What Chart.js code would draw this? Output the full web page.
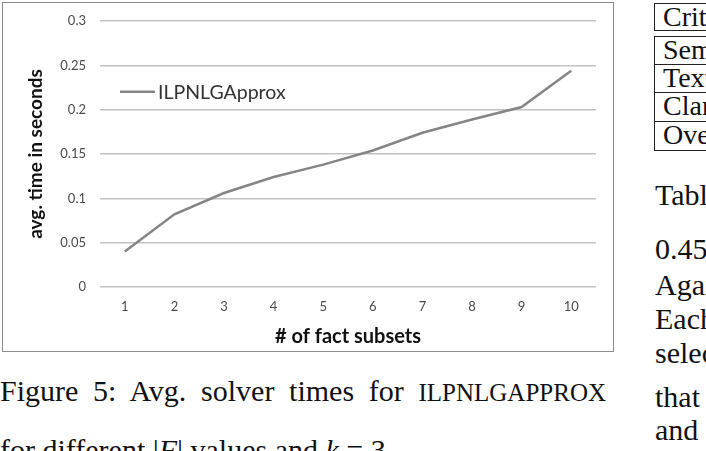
<!DOCTYPE html>
<html>
<head>
<meta charset="utf-8">
<script src="https://cdn.jsdelivr.net/npm/chart.js@4/dist/chart.umd.min.js"></script>
<style>
  html, body { margin: 0; padding: 0; background: #fff; }
  body { width: 706px; height: 451px; position: relative; overflow: hidden; }
  #frame { position: absolute; left: 2px; top: 2px; width: 610px; height: 348px; border: 1px solid #8c8c8c; }
  #frame canvas { display: block; }
  .serif { font-family: "Liberation Serif", "Times New Roman", serif; color: #111; position: absolute; white-space: nowrap; line-height: 36px; }
  #cap1 { left: 0px; top: 373px; font-size: 30px; width: 606px; text-align: justify; text-align-last: justify; }
  #cap2 { left: 0px; top: 432px; font-size: 30px; }
  .sc { font-size: 25px; }
  .cell { position: absolute; left: 654px; width: 80px; border: 1px solid #222; box-sizing: border-box; font-family: "Liberation Serif", serif; font-size: 28px; line-height: 26px; padding-left: 8px; color: #111; }
  .rt { left: 655px; font-size: 30px; }
</style>
</head>
<body>
<div id="frame"><canvas id="c" width="610" height="348"></canvas></div>
<div id="cap1" class="serif">Figure 5: Avg. solver times for <span class="sc">ILPNLGAPPROX</span></div>
<div id="cap2" class="serif">for different |<i>F</i>| values and <i>k</i> = 3.</div>

<div class="cell" style="top:3px;height:28px;">Criterion</div>
<div class="cell" style="top:36px;height:29px;">Semantic</div>
<div class="cell" style="top:64px;height:29px;">Textual</div>
<div class="cell" style="top:92px;height:30px;">Clarity</div>
<div class="cell" style="top:121px;height:30px;">Overall</div>
<div class="serif rt" style="top:177px;">Table</div>
<div class="serif rt" style="top:231px;">0.45</div>
<div class="serif rt" style="top:267px;">Again</div>
<div class="serif rt" style="top:301px;">Each</div>
<div class="serif rt" style="top:335px;">selected</div>
<div class="serif rt" style="top:379px;">that</div>
<div class="serif rt" style="top:412px;">and</div>

<script>
const categories = ["1", "2", "3", "4", "5", "6", "7", "8", "9", "10"];
const seriesName = "ILPNLGApprox";
const avgTimes = [0.040, 0.082, 0.106, 0.124, 0.138, 0.154, 0.174, 0.189, 0.203, 0.244];
const yTicks = [0, 0.05, 0.1, 0.15, 0.2, 0.25, 0.3];
const xTitle = "# of fact subsets";
const yTitle = "avg. time in seconds";

const FONT = "Lato, 'Open Sans', sans-serif";
const LINE_COLOR = "#858585";

const innerLegend = {
  id: "innerLegend",
  afterDraw(chart) {
    const ctx = chart.ctx;
    const ds = chart.data.datasets[0];
    const x0 = chart.chartArea.left + 20;
    const y0 = chart.scales.y.getPixelForValue(0.2) - 18;
    ctx.save();
    ctx.strokeStyle = ds.borderColor;
    ctx.lineWidth = ds.borderWidth;
    ctx.beginPath();
    ctx.moveTo(x0, y0);
    ctx.lineTo(x0 + 35, y0);
    ctx.stroke();
    ctx.fillStyle = "#333";
    ctx.font = "19.5px " + FONT;
    ctx.textBaseline = "middle";
    ctx.fillText(ds.label, x0 + 38, y0 + 1);
    ctx.restore();
  }
};

new Chart(document.getElementById("c"), {
  type: "line",
  data: {
    labels: categories,
    datasets: [{
      label: seriesName,
      data: avgTimes,
      borderColor: LINE_COLOR,
      borderWidth: 2.5,
      pointRadius: 0,
      tension: 0,
      fill: false
    }]
  },
  options: {
    responsive: false,
    animation: false,
    layout: { padding: { left: 17, top: 18, right: 17, bottom: 0 } },
    plugins: { legend: { display: false }, tooltip: { enabled: false } },
    scales: {
      x: {
        offset: true,
        grid: { display: false, drawTicks: false },
        border: { display: false },
        ticks: { padding: 12, color: "#4a4a4a", font: { family: FONT, size: 13 } },
        title: { display: true, text: xTitle, color: "#111", font: { family: FONT, size: 20, weight: "bold" }, padding: { top: 4, bottom: 2 } },
        afterFit(s) { s.height = 64; }
      },
      y: {
        min: 0, max: 0.3,
        afterBuildTicks(s) { s.ticks = yTicks.map(v => ({ value: v })); },
        grid: { color: "#c2c2c2", lineWidth: 1.5, drawTicks: true, tickLength: 14, tickColor: "rgba(0,0,0,0)" },
        border: { display: false },
        ticks: { padding: 0, color: "#4a4a4a", font: { family: FONT, size: 13 }, callback: v => String(v) },
        title: { display: true, text: yTitle, color: "#111", font: { family: FONT, size: 19, weight: "bold" }, padding: { top: 4, bottom: 4 } },
        afterFit(s) { s.width = 80; }
      }
    }
  },
  plugins: [innerLegend]
});
</script>
</body>
</html>
